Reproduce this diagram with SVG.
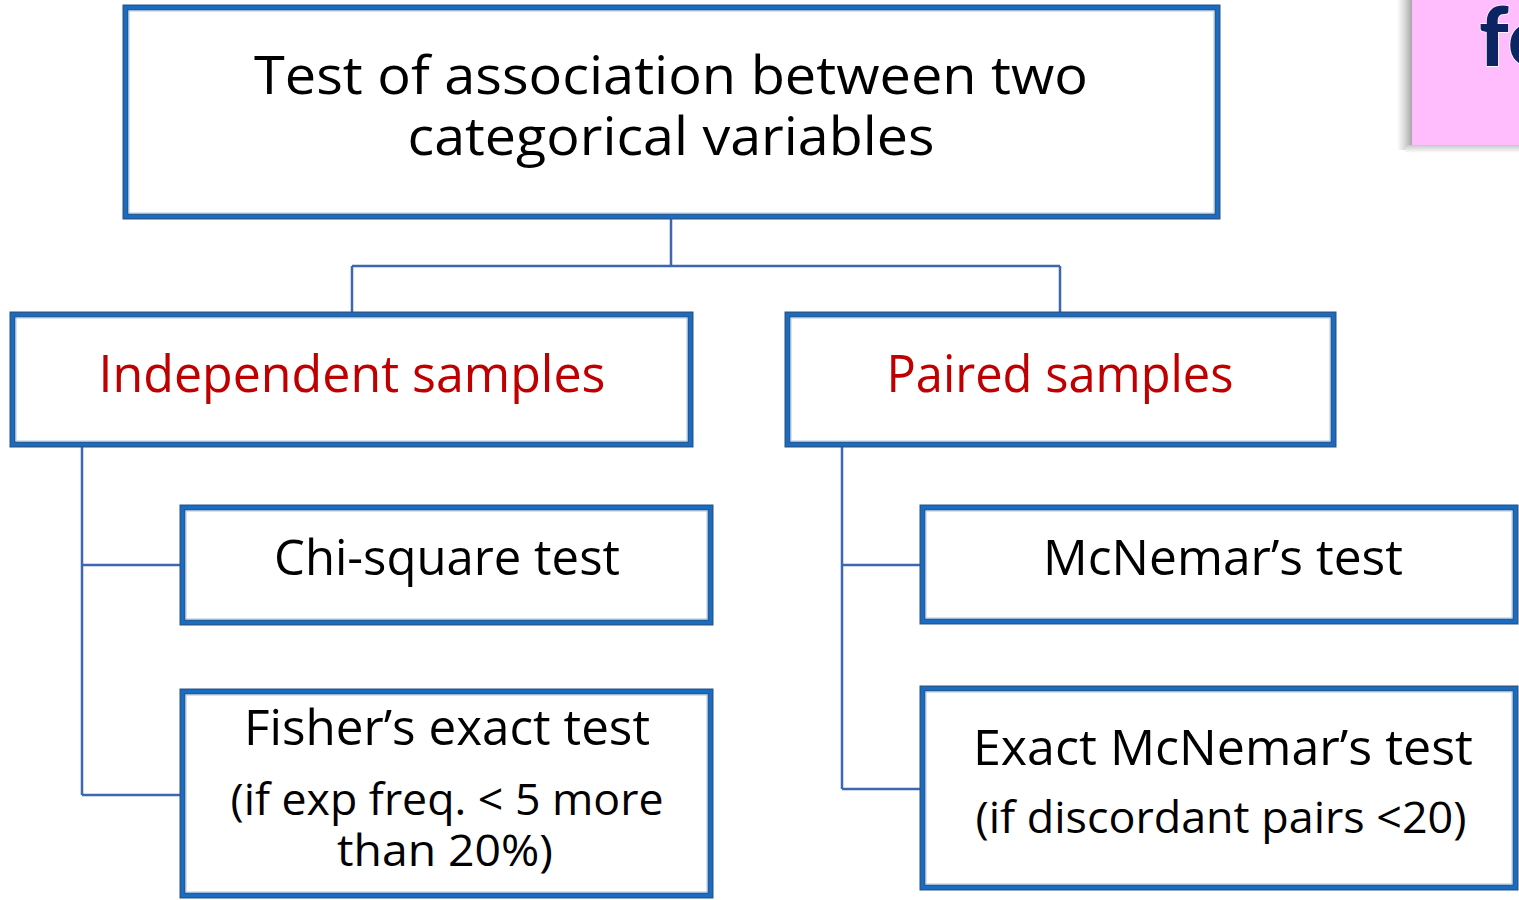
<svg xmlns="http://www.w3.org/2000/svg" width="1519" height="900" viewBox="0 0 1519 900">
<defs>
<style>
.box-o{fill:#ffffff;stroke:#2a5585;stroke-width:6}
.box-m{fill:none;stroke:#1a6cc2;stroke-width:3.5}
.box-i{fill:none;stroke:#a9c8e6;stroke-width:1}
.conn{fill:none;stroke:#3f66b0;stroke-width:2.5}
.t{font-family:"Open Sans","Noto Sans","Liberation Sans",sans-serif;text-anchor:middle;fill:#000}
.title{font-size:53px}
.head{font-size:52px;fill:#c00000}
.lab{font-size:50px}
.sub{font-size:44px}
</style>
<linearGradient id="shadowL" x1="0" x2="1" y1="0" y2="0">
<stop offset="0" stop-color="#ffffff"/>
<stop offset="0.5" stop-color="#d9d9d9"/>
<stop offset="1" stop-color="#a6a6a6"/>
</linearGradient>
<linearGradient id="shadowB" x1="0" x2="0" y1="0" y2="1">
<stop offset="0" stop-color="#c8c8c8"/>
<stop offset="1" stop-color="#ffffff"/>
</linearGradient>
</defs>
<rect width="1519" height="900" fill="#ffffff"/>

<g id="corner">
<rect x="1397" y="0" width="15" height="150" fill="url(#shadowL)"/>
<rect x="1405" y="145" width="114" height="8" fill="url(#shadowB)"/>
<rect x="1412" y="0" width="107" height="145" fill="#ffbdfd"/>
<text x="1479" y="66" font-family="Lato,'Open Sans',sans-serif" font-weight="900" font-size="82" fill="#0d2463" stroke="#ffffff" stroke-width="1.5" paint-order="stroke">fo</text>
</g>

<g id="connectors">
<path class="conn" d="M671 219V266M352 266H1060M352 266V312M1060 266V312"/>
<path class="conn" d="M82 447V795M82 565H180M82 795H180"/>
<path class="conn" d="M842 447V789M842 565H920M842 789H920"/>
</g>

<g id="root">
<rect class="box-o" x="125.5" y="7.5" width="1092" height="209"/>
<rect class="box-m" x="125.5" y="7.5" width="1092" height="209"/>
<rect class="box-i" x="129" y="11" width="1085" height="202"/>
<text class="t title" x="671" y="94" textLength="834" lengthAdjust="spacingAndGlyphs">Test of association between two</text>
<text class="t title" x="671" y="155" textLength="527" lengthAdjust="spacingAndGlyphs">categorical variables</text>
</g>

<g id="independent">
<rect class="box-o" x="12.5" y="314.5" width="678" height="130"/>
<rect class="box-m" x="12.5" y="314.5" width="678" height="130"/>
<rect class="box-i" x="16" y="318" width="671" height="123"/>
<text class="t head" x="352" y="392" textLength="507" lengthAdjust="spacingAndGlyphs">Independent samples</text>
</g>

<g id="paired">
<rect class="box-o" x="787.5" y="314.5" width="546" height="130"/>
<rect class="box-m" x="787.5" y="314.5" width="546" height="130"/>
<rect class="box-i" x="791" y="318" width="539" height="123"/>
<text class="t head" x="1060" y="392" textLength="347" lengthAdjust="spacingAndGlyphs">Paired samples</text>
</g>

<g id="chisquare">
<rect class="box-o" x="182.5" y="507.5" width="528" height="115"/>
<rect class="box-m" x="182.5" y="507.5" width="528" height="115"/>
<rect class="box-i" x="186" y="511" width="521" height="108"/>
<text class="t lab" x="447" y="575" textLength="346" lengthAdjust="spacingAndGlyphs">Chi-square test</text>
</g>

<g id="fisher">
<rect class="box-o" x="182.5" y="691.5" width="528" height="204"/>
<rect class="box-m" x="182.5" y="691.5" width="528" height="204"/>
<rect class="box-i" x="186" y="695" width="521" height="197"/>
<text class="t lab" x="447" y="745" textLength="406" lengthAdjust="spacingAndGlyphs">Fisher’s exact test</text>
<text class="t sub" x="447" y="815" textLength="433" lengthAdjust="spacingAndGlyphs">(if exp freq. &lt; 5 more</text>
<text class="t sub" x="445" y="866" textLength="216" lengthAdjust="spacingAndGlyphs">than 20%)</text>
</g>

<g id="mcnemar">
<rect class="box-o" x="922.5" y="507.5" width="593" height="114"/>
<rect class="box-m" x="922.5" y="507.5" width="593" height="114"/>
<rect class="box-i" x="926" y="511" width="586" height="107"/>
<text class="t lab" x="1223" y="575" textLength="360" lengthAdjust="spacingAndGlyphs">McNemar’s test</text>
</g>

<g id="exactmcnemar">
<rect class="box-o" x="922.5" y="688.5" width="593" height="199"/>
<rect class="box-m" x="922.5" y="688.5" width="593" height="199"/>
<rect class="box-i" x="926" y="692" width="586" height="192"/>
<text class="t lab" x="1223" y="765" textLength="500" lengthAdjust="spacingAndGlyphs">Exact McNemar’s test</text>
<text class="t sub" x="1221" y="833" textLength="491" lengthAdjust="spacingAndGlyphs">(if discordant pairs &lt;20)</text>
</g>
</svg>
